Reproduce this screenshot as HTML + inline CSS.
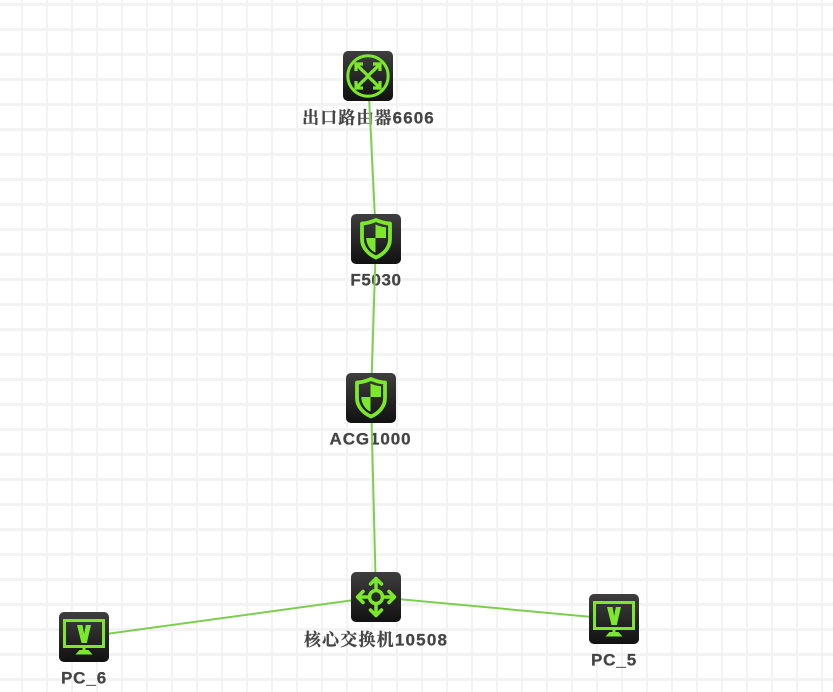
<!DOCTYPE html>
<html><head><meta charset="utf-8"><style>
html,body{margin:0;padding:0;background:#fff;overflow:hidden}
svg{display:block}
text{font-family:"Liberation Sans","Noto Serif CJK SC",sans-serif;font-size:17px;font-weight:bold;fill:#444;letter-spacing:.9px;text-anchor:middle;stroke:#444;stroke-width:.25px}
</style></head><body>
<svg width="833" height="692" viewBox="0 0 833 692" xmlns="http://www.w3.org/2000/svg">
<defs>
<pattern id="g" width="25" height="25" patternUnits="userSpaceOnUse">
<rect x="21" width="2" height="25" fill="#f3f3f3"/>
<rect y="3" width="25" height="3" fill="#f3f3f3"/>
</pattern>
<linearGradient id="b" x1="0" y1="0" x2="0" y2="1"><stop offset="0" stop-color="#3e3e3e"/><stop offset="1" stop-color="#111"/></linearGradient>
<g id="bg"><rect width="50" height="50" rx="5" fill="url(#b)"/></g>
<g id="shield">
<use href="#bg"/>
<path d="M25 6C31 8.500 35 9.500 39 9.500V25C39 33.500 33 40 25 43.500C17 40 11 33.500 11 25V9.500C15 9.500 19 8.500 25 6Z" fill="none" stroke="#7ce82b" stroke-width="3.800" stroke-linejoin="round"/>
<path d="M24.500 10.500C28 12 31 13 35 13.200V24H24.500ZM24.500 24V38.800C19.500 36.500 15.500 31 15.200 24Z" fill="#7ce82b"/>
</g>
<g id="pc">
<use href="#bg"/>
<rect x="5.500" y="8.500" width="39" height="26" fill="none" stroke="#7ce82b" stroke-width="3"/>
<path d="M18 13H23.500L25.200 22L26.800 13H32L27.800 31H22.500Z" fill="#7ce82b"/>
<rect x="23.500" y="35" width="3" height="3" fill="#7ce82b"/>
<path d="M20.500 38H29.500L33.500 42.500H16.500Z" fill="#7ce82b"/>
</g>
</defs>
<rect width="833" height="692" fill="url(#g)"/>

<text x="368.500" y="123.500" style="letter-spacing:1.1px">出口路由器6606</text>
<text x="376" y="285.500" style="letter-spacing:.6px">F5030</text>
<text x="370.500" y="444.500">ACG1000</text>
<text x="376" y="645.500" style="letter-spacing:1.2px">核心交换机10508</text>
<text x="84" y="683.500">PC_6</text>
<text x="614" y="665.500">PC_5</text>

<g stroke="#7ccf4e" stroke-width="2" fill="none">
<path d="M368 76L376 239L371 398L376 597"/>
<path d="M84 637L376 597L614 619"/>
</g>

<!-- router -->
<g transform="translate(343,51)">
<use href="#bg"/>
<circle cx="25" cy="25" r="20.200" fill="none" stroke="#7ce82b" stroke-width="3"/>
<g fill="none" stroke="#7ce82b" stroke-width="3.200" stroke-linejoin="miter">
<path d="M13 20V13H20"/>
<path d="M37 20V13H30"/>
<path d="M13 30V37H20"/>
<path d="M37 30V37H30"/>
<path d="M14 14L20 20Q22.500 22 25 25Q27.500 22 30 20L36 14"/>
<path d="M14 36L20 30Q22.500 28 25 25Q27.500 28 30 30L36 36"/>
</g>
</g>

<use href="#shield" x="351" y="214"/>
<use href="#shield" x="346" y="373"/>

<!-- core switch -->
<g transform="translate(351,572)">
<use href="#bg"/>
<circle cx="25" cy="25" r="6.500" fill="none" stroke="#7ce82b" stroke-width="3.500"/>
<g fill="none" stroke="#7ce82b" stroke-width="3.500" stroke-linecap="round" stroke-linejoin="round">
<path d="M25 17V7"/>
<path d="M25 33V43"/>
<path d="M17 25H7"/>
<path d="M33 25H43"/>
<path d="M19.500 12L25 6.500L30.500 12"/>
<path d="M19.500 38L25 43.500L30.500 38"/>
<path d="M12 19.500L6.500 25L12 30.500"/>
<path d="M38 19.500L43.500 25L38 30.500"/>
</g>
</g>

<use href="#pc" x="59" y="612"/>
<use href="#pc" x="589" y="594"/>
</svg>
</body></html>
